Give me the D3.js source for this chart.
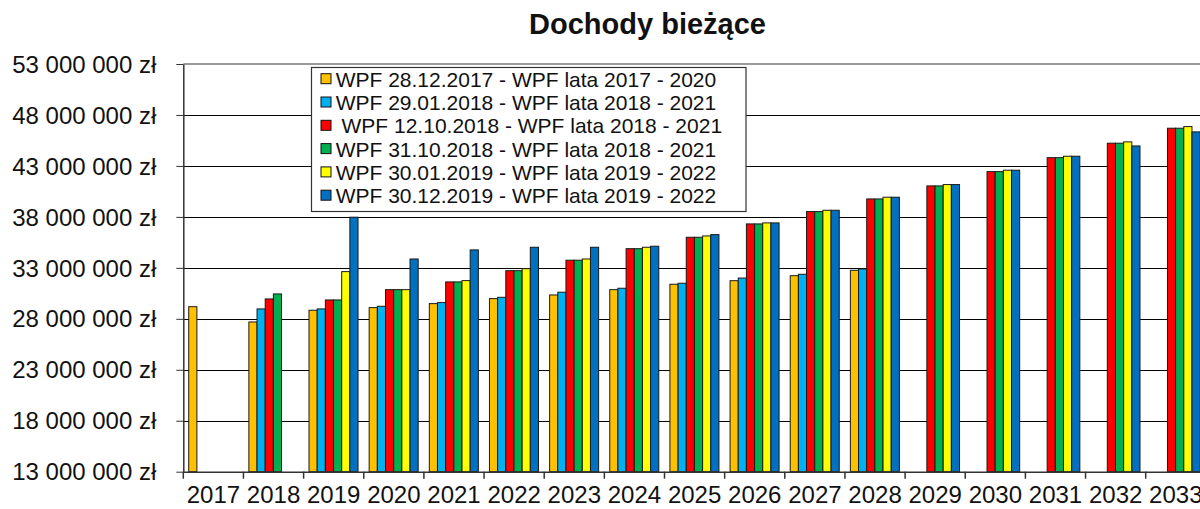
<!DOCTYPE html>
<html>
<head>
<meta charset="utf-8">
<script src="https://cdn.jsdelivr.net/npm/d3@7"></script>
<style>
  body { margin: 0; background: #fff; }
  svg { display: block; font-family: "Liberation Sans", Arial, sans-serif; }
</style>
</head>
<body>
<div id="chart"></div>
<script>
const years = ["2017", "2018", "2019", "2020", "2021", "2022", "2023", "2024", "2025",
    "2026", "2027", "2028", "2029", "2030", "2031", "2032", "2033"];

const seriesNames = [
    "WPF 28.12.2017 - WPF lata 2017 - 2020",
    "WPF 29.01.2018 - WPF lata 2018 - 2021",
    " WPF 12.10.2018 - WPF lata 2018 - 2021",
    "WPF 31.10.2018 - WPF lata 2018 - 2021",
    "WPF 30.01.2019 - WPF lata 2019 - 2022",
    "WPF 30.12.2019 - WPF lata 2019 - 2022"
];
const seriesColors = ["#FFC000", "#00B0F0", "#FF0000", "#00B050", "#FFFF00", "#0070C0"];

// values in zł, null = no bar
const wpf_2017_12 = [29190000, 27690000, 28840000, 29100000, 29490000, 29980000, 30340000, 30860000,
    31390000, 31740000, 32230000, 32760000, null, null, null, null, null];
const wpf_2018_01 = [null, 28970000, 28970000, 29230000, 29590000, 30110000, 30610000, 31000000,
    31490000, 32000000, 32370000, 32890000, null, null, null, null, null];
const wpf_2018_10a = [null, 29950000, 29850000, 30860000, 31620000, 32720000, 33750000, 34880000,
    36000000, 37310000, 38520000, 39760000, 41040000, 42440000, 43810000, 45230000, 46700000];
const wpf_2018_10b = [null, 30440000, 29850000, 30860000, 31620000, 32720000, 33750000, 34880000,
    36000000, 37310000, 38520000, 39760000, 41040000, 42440000, 43810000, 45230000, 46700000];
const wpf_2019_01 = [null, null, 32630000, 30860000, 31750000, 32920000, 33870000, 35020000,
    36130000, 37410000, 38650000, 39930000, 41170000, 42580000, 43950000, 45360000, 46860000];
const wpf_2019_12 = [null, null, 37970000, 33870000, 34760000, 35020000, 35020000, 35120000,
    36260000, 37410000, 38650000, 39930000, 41170000, 42580000, 43950000, 44960000, 46340000];

const seriesValues = [wpf_2017_12, wpf_2018_01, wpf_2018_10a, wpf_2018_10b, wpf_2019_01, wpf_2019_12];
const yTicks = d3.range(13000000, 53000001, 5000000);

const width = 1200, height = 509;
const plot = {left: 183.3, top: 64, bottom: 471.7, catWidth: 60.15};

const plLocale = d3.formatLocale({decimal: ",", thousands: "\u00a0", grouping: [3], currency: ["", " zł"]});
const fmt = plLocale.format("$,.0f");

let svg = d3.select("#chart")
    .append("svg")
    .attr("width", width)
    .attr("height", height);

let x = d3.scaleBand()
    .domain(years)
    .range([plot.left, plot.left + years.length * plot.catWidth]);

let xInner = d3.scaleBand()
    .domain(d3.range(seriesNames.length))
    .range([x.bandwidth() * 0.09, x.bandwidth() * 0.905]);

let y = d3.scaleLinear()
    .domain([13000000, 53000000])
    .range([plot.bottom, plot.top]);

// gridlines
svg.append("g")
    .selectAll("line")
    .data(yTicks.slice(1, -1))
    .join("line")
    .attr("x1", plot.left)
    .attr("x2", width)
    .attr("y1", d => Math.round(y(d)) + 0.5)
    .attr("y2", d => Math.round(y(d)) + 0.5)
    .attr("stroke", "#000")
    .attr("stroke-width", 1);

// top border of plot area
svg.append("line")
    .attr("x1", plot.left).attr("x2", width)
    .attr("y1", plot.top).attr("y2", plot.top)
    .attr("stroke", "#9a9a9a")
    .attr("stroke-width", 2);

// bars
let groups = svg.append("g")
    .selectAll("g")
    .data(years)
    .join("g")
    .attr("transform", d => `translate(${x(d)},0)`);

groups.selectAll("rect")
    .data((d, i) => seriesValues.map((vals, s) => ({s: s, v: vals[i]})).filter(e => e.v != null))
    .join("rect")
    .attr("x", d => xInner(d.s))
    .attr("y", d => y(d.v))
    .attr("width", xInner.bandwidth())
    .attr("height", d => plot.bottom - y(d.v))
    .attr("fill", d => seriesColors[d.s])
    .attr("stroke", "#1a1a1a")
    .attr("stroke-width", 1);

// y axis
let yAxis = svg.append("g")
    .attr("transform", `translate(${plot.left},0)`)
    .call(d3.axisLeft(y).tickValues(yTicks).tickSize(7).tickSizeOuter(0).tickFormat(fmt).tickPadding(20));
yAxis.select(".domain").attr("stroke", "#333").attr("stroke-width", 1.5);
yAxis.selectAll(".tick line").attr("stroke", "#333");
yAxis.selectAll("text")
    .attr("font-size", 24)
    .attr("font-family", "Liberation Sans, Arial, sans-serif")
    .attr("fill", "#111")
    .attr("dy", "0.34em");

// x axis
let xAxis = svg.append("g")
    .attr("transform", `translate(0,${plot.bottom})`)
    .call(d3.axisBottom(x).tickSize(0).tickPadding(14));
xAxis.select(".domain").attr("stroke", "#333").attr("stroke-width", 1.5);
xAxis.selectAll("text")
    .attr("font-size", 24)
    .attr("font-family", "Liberation Sans, Arial, sans-serif")
    .attr("fill", "#111")
    .attr("dy", "0.72em");

// category boundary ticks
xAxis.append("g")
    .selectAll("line")
    .data(years)
    .join("line")
    .attr("x1", d => x(d))
    .attr("x2", d => x(d))
    .attr("y1", 0)
    .attr("y2", 7)
    .attr("stroke", "#333")
    .attr("stroke-width", 1.5);

// title
svg.append("text")
    .attr("x", 647.5)
    .attr("y", 34.3)
    .attr("text-anchor", "middle")
    .attr("font-size", 29)
    .attr("font-weight", "bold")
    .attr("fill", "#111")
    .text("Dochody bieżące");

// legend
let legend = svg.append("g");
legend.append("rect")
    .attr("x", 311.5)
    .attr("y", 67.5)
    .attr("width", 434.5)
    .attr("height", 144)
    .attr("fill", "#fff")
    .attr("stroke", "#333")
    .attr("stroke-width", 1.2);

let items = legend.selectAll(".item")
    .data(seriesNames)
    .join("g")
    .attr("class", "item")
    .attr("transform", (d, i) => `translate(0,${78.7 + i * 23.3})`);

items.append("rect")
    .attr("x", 321)
    .attr("y", -5)
    .attr("width", 10)
    .attr("height", 10)
    .attr("fill", (d, i) => seriesColors[i])
    .attr("stroke", "#111")
    .attr("stroke-width", 1);

items.append("text")
    .attr("x", 335.7)
    .attr("y", 8)
    .attr("font-size", 21)
    .attr("fill", "#111")
    .style("white-space", "pre")
    .text(d => d);
</script>
</body>
</html>
